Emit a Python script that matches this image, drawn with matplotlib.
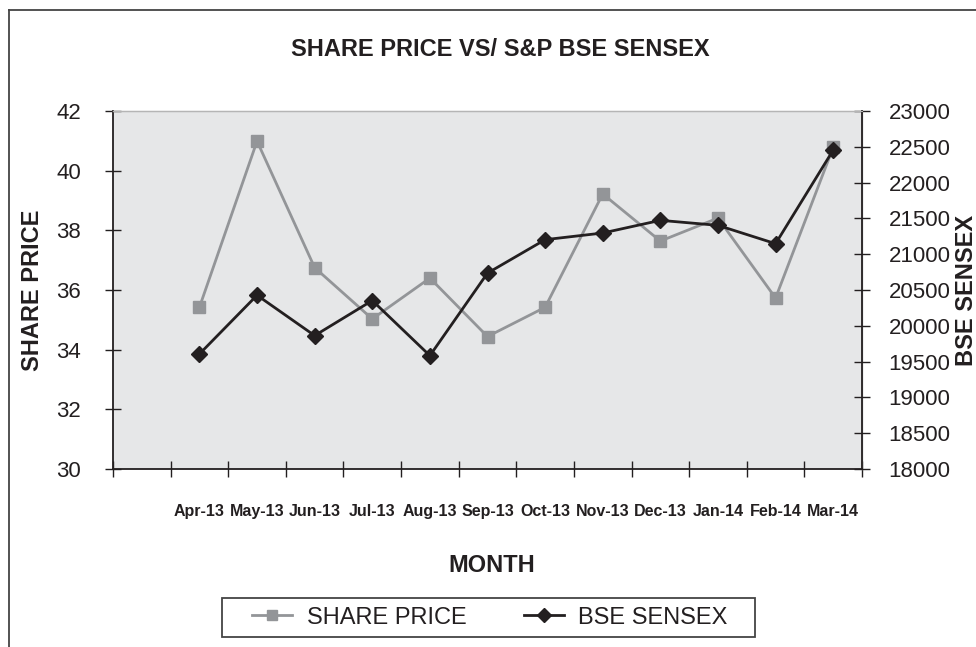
import numpy as np
import matplotlib
matplotlib.use("Agg")
import matplotlib.pyplot as plt
from matplotlib.lines import Line2D
from matplotlib.patches import Rectangle

plt.rcParams['font.family'] = ['Liberation Sans', 'DejaVu Sans']

# Data
months = ["Apr-13", "May-13", "Jun-13", "Jul-13", "Aug-13", "Sep-13",
          "Oct-13", "Nov-13", "Dec-13", "Jan-14", "Feb-14", "Mar-14"]
share_price = [35.42, 40.99, 36.75, 35.03, 36.40, 34.44,
               35.42, 39.22, 37.64, 38.41, 35.73, 40.78]
bse_sensex = [19606, 20427, 19863, 20353, 19583, 20736,
              21203, 21296, 21473, 21403, 21147, 22454]

GRAY = "#939598"
DARK = "#231f20"
BG = "#e6e7e8"

fig = plt.figure(figsize=(9.76, 6.47), dpi=100)
ax = fig.add_axes([113 / 976, 1 - 469 / 647, 749 / 976, 358 / 647])
ax.set_facecolor(BG)
ax2 = ax.twinx()

# first slot of the category axis is empty, as in the original
x = np.arange(1, len(months) + 1)

l1, = ax.plot(x, share_price, color=GRAY, lw=2.0, marker='s', ms=9,
              mec=GRAY, mfc=GRAY, label="SHARE PRICE", zorder=3)
l2, = ax2.plot(x, bse_sensex, color=DARK, lw=2.0, marker='D', ms=8,
               mec=DARK, mfc=DARK, label="BSE SENSEX", zorder=4)

ax.set_xlim(-0.5, len(months) + 0.5)
ax.set_ylim(30, 42)
ax.set_yticks(np.arange(30, 43, 2))
ax2.set_ylim(18000, 23000)
ax2.set_yticks(np.arange(18000, 23001, 500))

ax.set_xticks(np.arange(-0.5, len(months) + 1, 1))
ax.set_xticklabels([])
ax.set_xticks(x, minor=True)
ax.set_xticklabels(months, minor=True, fontsize=11.5, fontweight='bold',
                   color=DARK)
ax.tick_params(axis='x', which='major', direction='inout', length=12,
               width=1, color=DARK)
ax.tick_params(axis='x', which='minor', length=0, pad=25)
ax.tick_params(axis='y', direction='inout', length=12, width=1, color=DARK,
               labelsize=16, labelcolor=DARK, pad=17)
ax2.tick_params(axis='y', direction='inout', length=12, width=1, color=DARK,
                labelsize=16, labelcolor=DARK, pad=13)

for s in ['left', 'bottom']:
    ax.spines[s].set_color(DARK)
    ax.spines[s].set_linewidth(1.3)
for s in ['top', 'right']:
    ax.spines[s].set_color("#b5b5b5")
    ax.spines[s].set_linewidth(1.0)
ax2.spines['right'].set_color(DARK)
ax2.spines['right'].set_linewidth(1.3)
ax2.spines['top'].set_color("#b5b5b5")
ax2.spines['left'].set_visible(False)
ax2.spines['bottom'].set_visible(False)

ax.set_ylabel("SHARE PRICE", fontsize=17, fontweight='bold', color=DARK,
              va='center', ha='center')
ax.yaxis.set_label_coords((33 - 113) / 749, 0.5)
ax2.set_ylabel("BSE SENSEX", fontsize=17, fontweight='bold', color=DARK,
               va='center', ha='center', rotation=90)
ax2.yaxis.set_label_coords((966 - 113) / 749, 0.5)
ax.set_xlabel("MONTH", fontsize=17, fontweight='bold', color=DARK,
              va='center', ha='center')
ax.xaxis.set_label_coords((492 - 113) / 749, (469 - 565) / 358)

fig.text(500 / 976, 1 - 50 / 647, "SHARE PRICE VS/ S&P BSE SENSEX",
         fontsize=17, fontweight='bold', color=DARK, ha='center', va='center')

leg = fig.legend(handles=[l1, l2], loc='center', ncol=2,
                 bbox_to_anchor=(490 / 976, 1 - 617.5 / 647),
                 fontsize=17, frameon=False, handlelength=1.7,
                 handletextpad=0.6, columnspacing=2.45, borderpad=0.35,
                 markerscale=0.85)
for t in leg.get_texts():
    t.set_color(DARK)
# legend box drawn separately so its padding matches the original
fig.add_artist(Rectangle((222 / 976, 1 - 637 / 647), 533 / 976, 39 / 647,
                         transform=fig.transFigure, fill=False,
                         edgecolor="#444444", lw=1.3))

# outer chart frame (cut off on the right and bottom)
fig.add_artist(Line2D([9 / 976, 9 / 976], [0, 1 - 10 / 647],
                      transform=fig.transFigure, color="#444444", lw=1.3))
fig.add_artist(Line2D([9 / 976, 1], [1 - 10 / 647, 1 - 10 / 647],
                      transform=fig.transFigure, color="#444444", lw=1.3))

fig.savefig("out.png", dpi=100)
